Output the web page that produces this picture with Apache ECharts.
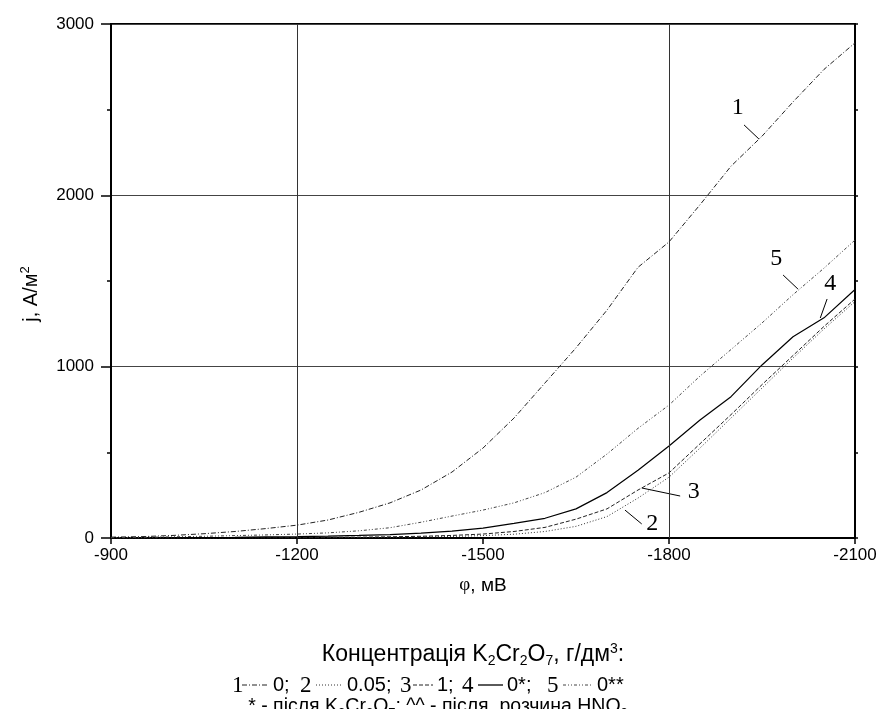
<!DOCTYPE html>
<html>
<head>
<meta charset="utf-8">
<script src="https://cdn.jsdelivr.net/npm/echarts@6/dist/echarts.min.js"></script>
<style>
html,body{margin:0;padding:0;background:#fff;}
#chart{width:880px;height:709px;}
</style>
</head>
<body>
<div id="chart"></div>
<script>
// ---- data ----
var potential = [-900,-950,-1000,-1050,-1100,-1150,-1200,-1250,-1300,-1350,-1400,-1450,-1500,-1550,-1600,-1650,-1700,-1750,-1800,-1850,-1900,-1950,-2000,-2050,-2100];
var curve1 = [5,8,15,25,38,55,75,105,150,205,280,385,525,700,905,1110,1330,1580,1728,1945,2170,2345,2545,2735,2890];
var curve2 = [0,0,0,0,1,1,1,2,3,4,6,9,14,22,38,68,125,233,355,525,700,875,1050,1220,1380];
var curve3 = [0,0,1,1,2,2,3,4,5,7,10,15,23,38,62,110,170,280,380,550,720,895,1065,1235,1395];
var curve4 = [0,1,2,3,4,6,8,11,15,20,28,40,58,85,115,170,265,395,537,689,825,1010,1175,1285,1450];
var curve5 = [2,4,7,10,14,18,23,30,42,60,92,128,163,205,265,355,490,640,776,945,1100,1255,1420,1575,1739];
var xTicks = [-900,-1200,-1500,-1800,-2100];
var yTicks = [0,1000,2000,3000];
var curveNames = ['1','2','3','4','5'];
// annotation anchors in data coordinates: [label, labelX,labelY, leaderFromX,leaderFromY, leaderToX,leaderToY]
var annotations = [
  ['1', -1911, 2510, -1921, 2411, -1945, 2329],
  ['2', -1773, 82, -1756, 82, -1729, 163],
  ['3', -1840, 268, -1818, 245, -1756, 292],
  ['4', -2060, 1483, -2055, 1395, -2044, 1284],
  ['5', -1973, 1629, -1984, 1535, -2008, 1453]
];

function pairs(ys){ return potential.map(function(x,i){ return [x, ys[i]]; }); }

var chart = echarts.init(document.getElementById('chart'), null, {renderer:'canvas'});
var SANS = '"Liberation Sans", Arial, sans-serif';
var SERIF = '"Liberation Serif", "Times New Roman", serif';

var styles = {
  '1': {color:'#222', width:1, type:[5,2,1,2]},
  '2': {color:'#333', width:1, type:[1,2]},
  '3': {color:'#222', width:1, type:[4,2]},
  '4': {color:'#000', width:1.2, type:'solid'},
  '5': {color:'#444', width:1, type:[3,2,1,2,1,2]}
};
var dataMap = {'1':curve1,'2':curve2,'3':curve3,'4':curve4,'5':curve5};

var series = curveNames.map(function(n){
  var s = styles[n];
  return {
    name: n, type:'line', data: pairs(dataMap[n]), symbol:'none', smooth:false,
    silent:true, animation:false,
    lineStyle:{color:s.color, width:s.width, type:s.type}
  };
});
// vertical grid lines at -1200 and -1800
series.push({
  type:'line', data:[], silent:true, animation:false,
  markLine:{silent:true, symbol:'none', label:{show:false},
    lineStyle:{color:'#333', width:1, type:'solid'},
    data:[{xAxis:-1200},{xAxis:-1800}]}
});

function plain(v){ return String(v); }

var option = {
  animation:false,
  backgroundColor:'#fff',
  grid:{left:111, right:25, top:24, bottom:171, show:true, borderColor:'#000', borderWidth:2, backgroundColor:'transparent'},
  xAxis:[{
    type:'value', min:-2100, max:-900, interval:300, inverse:true,
    axisLine:{show:true, onZero:false, lineStyle:{color:'#000', width:2}},
    axisTick:{show:true, length:6, lineStyle:{color:'#000', width:1.5}},
    axisLabel:{color:'#000', fontFamily:SANS, fontSize:17, margin:9, formatter:plain},
    splitLine:{show:false},
    name:'{phi|φ}, мВ', nameLocation:'middle', nameGap:38,
    nameTextStyle:{color:'#000', fontFamily:SANS, fontSize:19,
      rich:{phi:{fontFamily:SERIF, fontSize:19, color:'#000'}}}
  }],
  yAxis:[{
    type:'value', min:0, max:3000, interval:1000, position:'left',
    axisLine:{show:true, onZero:false, lineStyle:{color:'#000', width:2}},
    axisTick:{show:true, length:10, lineStyle:{color:'#000', width:1.5}},
    minorTick:{show:true, splitNumber:2, length:4, lineStyle:{color:'#000', width:1.5}},
    axisLabel:{color:'#000', fontFamily:SANS, fontSize:17, margin:17, formatter:plain},
    splitLine:{show:true, lineStyle:{color:'#444', width:1}}
  },{
    type:'value', min:0, max:3000, interval:500, position:'right',
    axisLine:{show:true, onZero:false, lineStyle:{color:'#000', width:2}},
    axisTick:{show:true, length:3, lineStyle:{color:'#000', width:1.5}},
    axisLabel:{show:false}, splitLine:{show:false}
  }],
  series: series
};
chart.setOption(option);

// ---- annotations, axis title and bottom legend ----
var graphics = [];
annotations.forEach(function(a){
  var p = chart.convertToPixel({gridIndex:0}, [a[1], a[2]]);
  var f = chart.convertToPixel({gridIndex:0}, [a[3], a[4]]);
  var t = chart.convertToPixel({gridIndex:0}, [a[5], a[6]]);
  graphics.push({type:'text', x:p[0], y:p[1], silent:true,
    style:{text:a[0], font:'24px ' + SERIF, fill:'#000', align:'center', verticalAlign:'middle'}});
  graphics.push({type:'line', silent:true, shape:{x1:f[0], y1:f[1], x2:t[0], y2:t[1]},
    style:{stroke:'#000', lineWidth:1}});
});

function subRich(fs, pad){
  return {
    sub:{fontSize:fs, fontFamily:SANS, fill:'#000', padding:[pad,0,0,0]},
    sup:{fontSize:fs, fontFamily:SANS, fill:'#000', padding:[0,0,pad,0]}
  };
}
// y axis title
graphics.push({type:'text', x:31, y:294, rotation:Math.PI/2, silent:true,
  style:{text:'j, A/м{sup|2}', fontSize:20, fontFamily:SANS, fill:'#000',
    align:'center', verticalAlign:'middle', rich:subRich(13, 12)}});

graphics.push({type:'text', x:473, y:655, silent:true,
  style:{text:'Концентрація K{sub|2}Cr{sub|2}O{sub|7}, г/дм{sup|3}:', fontSize:23, fontFamily:SANS, fill:'#000',
    align:'center', verticalAlign:'middle', rich:subRich(14, 12)}});

var row = [
  ['1', 232, 242, 268, '0;', 273],
  ['2', 300, 316, 342, '0.05;', 347],
  ['3', 400, 413, 433, '1;', 437],
  ['4', 462, 478, 503, '0*;', 507],
  ['5', 547, 563, 592, '0**', 597]
];
var rowY = 685;
row.forEach(function(r){
  var s = styles[r[0]];
  graphics.push({type:'text', x:r[1], y:rowY+1, silent:true,
    style:{text:r[0], font:'23px ' + SERIF, fill:'#000', align:'left', verticalAlign:'middle'}});
  graphics.push({type:'line', silent:true, shape:{x1:r[2], y1:rowY, x2:r[3], y2:rowY},
    style:{stroke:s.color, lineWidth:s.type === 'solid' ? 1.3 : 1, lineDash: s.type === 'solid' ? null : s.type}});
  graphics.push({type:'text', x:r[5], y:rowY, silent:true,
    style:{text:r[4], font:'20px ' + SANS, fill:'#000', align:'left', verticalAlign:'middle'}});
});
graphics.push({type:'text', x:438, y:707, silent:true,
  style:{text:'* - після K{sub|2}Cr{sub|2}O{sub|7}; ^^ - після  розчина HNO{sub|3}', fontSize:19.5, fontFamily:SANS, fill:'#000',
    align:'center', verticalAlign:'middle', rich:subRich(13, 12)}});

chart.setOption({graphic: graphics});
</script>
</body>
</html>
